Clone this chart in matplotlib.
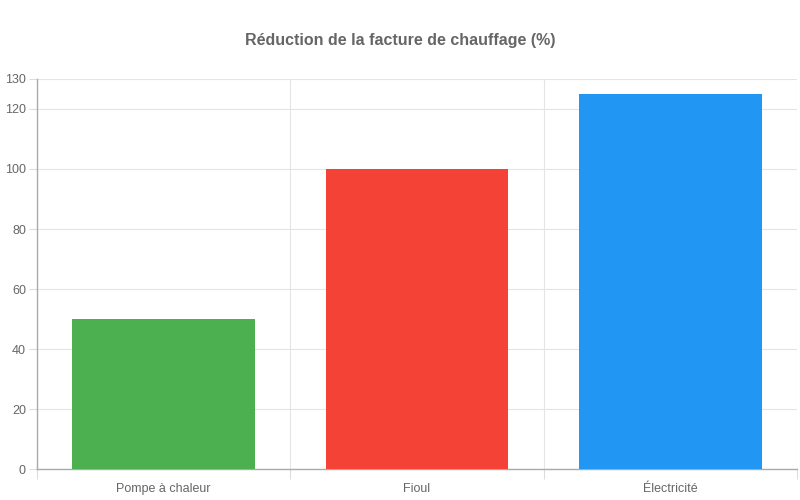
import matplotlib
matplotlib.use('Agg')
import matplotlib.pyplot as plt
import numpy as np

plt.rcParams['font.family'] = ['Liberation Sans', 'DejaVu Sans']

# données
categories = ['Pompe à chaleur', 'Fioul', 'Électricité']
values = [50, 100, 125]
colors = ['#4CAF50', '#F44336', '#2196F3']
yticks = [0, 20, 40, 60, 80, 100, 120, 130]
title = 'Réduction de la facture de chauffage (%)'

fig = plt.figure(figsize=(8, 5), dpi=100)
ax = fig.add_axes([37 / 800, 31 / 500, 760 / 800, 390 / 500])

x = np.arange(len(categories))
ax.bar(x, values, width=0.72, color=colors, zorder=3)

ax.set_xlim(-0.5, len(categories) - 0.5)
ax.set_ylim(0, 130)

# axe x : étiquettes au centre, grille aux bornes des catégories
ax.set_xticks(x)
ax.set_xticklabels(categories, fontsize=9, color='#666666')
ax.tick_params(axis='x', which='major', length=0, pad=10)
ax.set_xticks(np.arange(-0.5, len(categories)), minor=True)
ax.tick_params(axis='x', which='minor', length=7.5, width=0.8, color='#dddddd')
ax.grid(axis='x', which='minor', color='#e5e5e5', linewidth=0.8, zorder=0)

# axe y
ax.set_yticks(yticks)
ax.set_yticklabels([str(v) for v in yticks], fontsize=9, color='#666666')
ax.tick_params(axis='y', length=6, width=0.8, color='#dddddd', pad=2)
ax.grid(axis='y', color='#e5e5e5', linewidth=0.8, zorder=0)

for side in ['top', 'right']:
    ax.spines[side].set_visible(False)
for side in ['left', 'bottom']:
    ax.spines[side].set_color('#aaaaaa')
    ax.spines[side].set_linewidth(1)

fig.text(0.5, 1 - 40 / 500, title, ha='center', va='center',
         fontsize=11.5, fontweight='bold', color='#666666')

fig.savefig('out.png', dpi=100)
